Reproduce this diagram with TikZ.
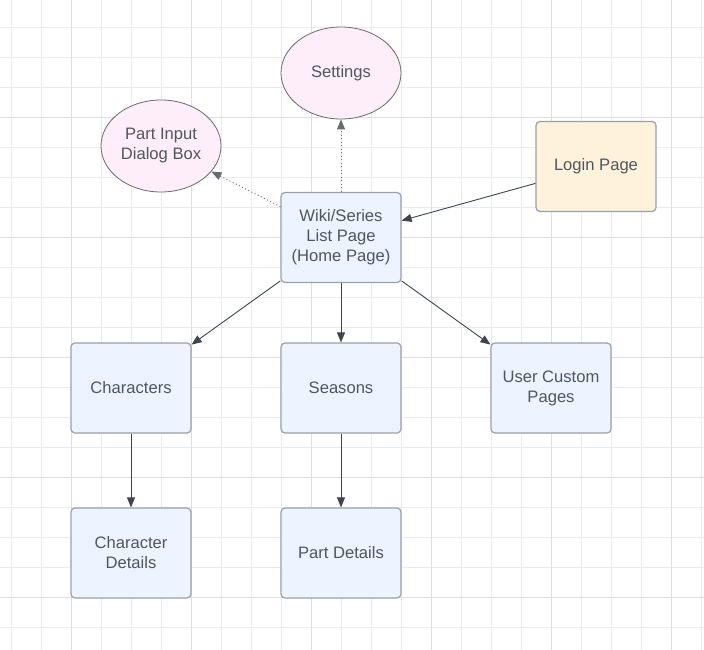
\documentclass[tikz,border=0pt]{standalone}
\usepackage{fontspec}
\setmainfont{Liberation Sans}
\usetikzlibrary{arrows.meta,shapes.geometric}
\definecolor{gridminor}{HTML}{EBEBEB}
\definecolor{gridmajor}{HTML}{DEDEDE}
\definecolor{boxfill}{HTML}{EDF4FF}
\definecolor{boxdraw}{HTML}{9AA0A8}
\definecolor{loginfill}{HTML}{FFF2DB}
\definecolor{ellfill}{HTML}{FDEEF9}
\definecolor{elldraw}{HTML}{6A6A6A}
\definecolor{txt}{HTML}{50565F}
\definecolor{conn}{HTML}{3E4550}
\begin{document}
\begin{tikzpicture}[x=1pt,y=-1pt,
  pagebox/.style={draw=boxdraw, line width=1.2pt, fill=boxfill, rounded corners=4pt,
    minimum width=120pt, minimum height=90pt, inner sep=0pt, align=center, text=txt,
    font=\fontsize{16.6}{20}\selectfont},
  loginbox/.style={pagebox, fill=loginfill},
  dialog/.style={ellipse, draw=elldraw, line width=0.8pt, fill=ellfill,
    minimum width=120pt, minimum height=92pt, inner sep=0pt, align=center, text=txt,
    font=\fontsize{16.6}{20}\selectfont},
  link/.style={draw=conn, line width=0.9pt, -{Triangle[length=10pt,width=8pt]}},
  optlink/.style={link, draw=conn!80, dash pattern=on 1pt off 2.5pt}
]
\useasboundingbox (0,0) rectangle (704,650);
\fill[white] (0,0) rectangle (704,650);
\foreach \k in {0,...,23} \draw[gridminor, line width=0.8pt] (11.7+30*\k,0) -- (11.7+30*\k,650);
\foreach \k in {0,...,21} \draw[gridminor, line width=0.8pt] (0,27.3+30*\k) -- (704,27.3+30*\k);
\foreach \k in {0,...,5} \draw[gridmajor, line width=0.8pt] (71.7+120*\k,0) -- (71.7+120*\k,650);
\foreach \k in {0,...,4} \draw[gridmajor, line width=0.8pt] (0,117.3+120*\k) -- (704,117.3+120*\k);

\node[dialog] (settings) at (341,73) {Settings};
\node[dialog] (partin) at (161,146) {Part Input\\Dialog Box};
\node[pagebox] (wiki) at (341,237.5) {Wiki/Series\\List Page\\(Home Page)};
\node[loginbox] (login) at (596,166.5) {Login Page};
\node[pagebox] (chars) at (131,388) {Characters};
\node[pagebox] (seasons) at (341,388) {Seasons};
\node[pagebox] (custom) at (551,388) {User Custom\\Pages};
\node[pagebox] (chardet) at (131,553) {Character\\Details};
\node[pagebox] (partdet) at (341,553) {Part Details};

\draw[optlink] (wiki) -- (settings);
\draw[optlink] (wiki.153) -- (partin);
\draw[link] (login) -- (wiki);
\draw[link] (wiki) -- (chars);
\draw[link] (wiki) -- (seasons);
\draw[link] (wiki) -- (custom);
\draw[link] (chars) -- (chardet);
\draw[link] (seasons) -- (partdet);
\end{tikzpicture}
\end{document}
